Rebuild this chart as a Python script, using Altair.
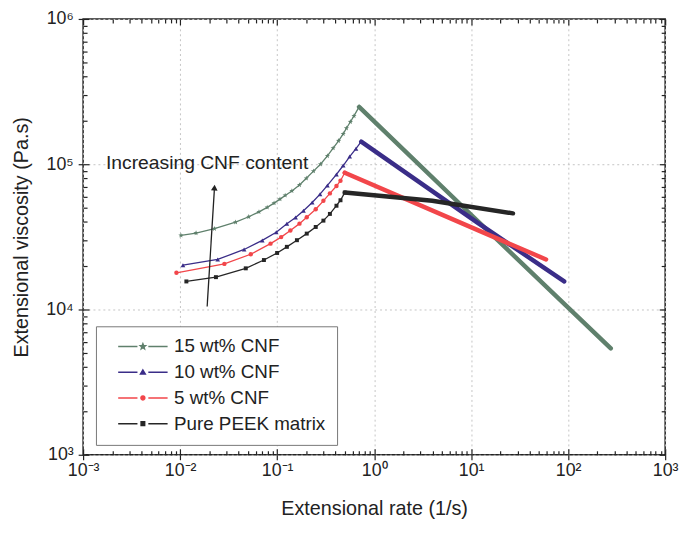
import math
import altair as alt
import pandas as pd

FONT = "Liberation Sans"
INK = "#222222"

series_names = ["15 wt% CNF", "10 wt% CNF", "5 wt% CNF", "Pure PEEK matrix"]
series_colors = ["#5f806c", "#3a2d88", "#f2464a", "#262626"]

rise_rate_15 = [0.0102, 0.0146, 0.0226, 0.0373, 0.051, 0.065, 0.079, 0.093, 0.107, 0.121,
                0.142, 0.17, 0.2, 0.237, 0.28, 0.33, 0.378, 0.43, 0.48, 0.518, 0.57, 0.62, 0.70]
rise_visc_15 = [32400, 33600, 36000, 39900, 43500, 47000, 50500, 54000, 57500, 61000,
                65500, 72000, 80000, 89600, 100000, 114000, 129000, 145000, 162000, 177000,
                196000, 215000, 248000]
rise_rate_10 = [0.0107, 0.0244, 0.0457, 0.0703, 0.098, 0.126, 0.155, 0.187, 0.23, 0.277,
                0.33, 0.409, 0.48, 0.56, 0.65, 0.736]
rise_visc_10 = [20200, 22100, 25900, 29900, 34000, 38900, 43000, 47800, 54500, 62200,
                71500, 85100, 98000, 113000, 128000, 143000]
rise_rate_5 = [0.00916, 0.0286, 0.0535, 0.0855, 0.11, 0.137, 0.17, 0.202, 0.25, 0.3,
               0.35, 0.409, 0.45, 0.498]
rise_visc_5 = [17900, 20600, 24000, 28400, 31500, 35000, 39000, 43100, 49000, 56000,
               63000, 70800, 77000, 87300]
rise_rate_0 = [0.0116, 0.0234, 0.0475, 0.0731, 0.1, 0.126, 0.16, 0.202, 0.25, 0.3,
               0.35, 0.409, 0.45, 0.498]
rise_visc_0 = [15600, 16700, 19200, 21900, 24500, 27000, 30000, 33300, 37000, 40900,
               45500, 51800, 56500, 63800]

fall_rate_15 = [0.70, 10, 100, 275]
fall_visc_15 = [248000, 44900, 10300, 5400]
fall_rate_10 = [0.736, 11.7, 91]
fall_visc_10 = [143000, 39500, 15600]
fall_rate_5 = [0.498, 11.7, 59.2]
fall_visc_5 = [87300, 35200, 22100]
fall_rate_0 = [0.498, 3.97, 27]
fall_visc_0 = [63800, 56000, 45900]

note_text = ["Increasing CNF content"]
note_rate = [0.00172]
note_visc = [92500]
arrow_rate = [0.019, 0.0226]
arrow_visc = [10500, 69000]

x_decades = [1e-3, 1e-2, 1e-1, 1e0, 1e1, 1e2, 1e3]
x_labels = ["10⁻³", "10⁻²", "10⁻¹", "10⁰", "10¹", "10²", "10³"]
y_decades = [1e3, 1e4, 1e5, 1e6]
y_labels = ["10³", "10⁴", "10⁵", "10⁶"]
minor_steps = [2, 3, 4, 5, 6, 7, 8, 9]

rise_sets = [(rise_rate_15, rise_visc_15), (rise_rate_10, rise_visc_10),
             (rise_rate_5, rise_visc_5), (rise_rate_0, rise_visc_0)]
fall_sets = [(fall_rate_15, fall_visc_15), (fall_rate_10, fall_visc_10),
             (fall_rate_5, fall_visc_5), (fall_rate_0, fall_visc_0)]

rise_rows, fall_rows = [], []
for name, (r, v) in zip(series_names, rise_sets):
    for i, (a, b) in enumerate(zip(r, v)):
        rise_rows.append({"series": name, "rate": a, "visc": b, "i": i})
for name, (r, v) in zip(series_names, fall_sets):
    for i, (a, b) in enumerate(zip(r, v)):
        fall_rows.append({"series": name, "rate": a, "visc": b, "i": i})
rise_df = pd.DataFrame(rise_rows)
fall_df = pd.DataFrame(fall_rows)
note_df = pd.DataFrame({"rate": note_rate, "visc": note_visc, "text": note_text})
arrow_df = pd.DataFrame({"rate": arrow_rate, "visc": arrow_visc, "i": [0, 1]})
head_df = arrow_df.iloc[[1]]
anchor_df = pd.DataFrame({"rate": [1.0], "visc": [1e4]})

x_minors = [k * d for d in x_decades[:-1] for k in minor_steps]
y_minors = [k * d for d in y_decades[:-1] for k in minor_steps]


def label_expr(decades, labels):
    expr = "''"
    for d, lab in zip(reversed(decades), reversed(labels)):
        e = int(round(math.log10(d)))
        expr = f"round(log(datum.value)/LN10) == {e} ? '{lab}' : ({expr})"
    return expr


def poly_path(n, ro, ri=None, rot=-math.pi / 2):
    pts = []
    m = n * 2 if ri else n
    for k in range(m):
        ang = rot + k * 2 * math.pi / m
        r = ro if (ri is None or k % 2 == 0) else ri
        pts.append(f"{r*math.cos(ang):.3f},{r*math.sin(ang):.3f}")
    return "M" + "L".join(pts) + "Z"


STAR = poly_path(5, 1.0, 0.42)
series_shapes = [STAR, "triangle-up", "circle", "square"]
series_sizes = [30, 22, 20, 16]

seg = "M-5,0L-1.1,0M1.1,0L5,0"
legend_paths = [
    seg + poly_path(5, 0.55, 0.24),
    seg + "M0,-0.45L0.48,0.35L-0.48,0.35Z",
    seg + poly_path(12, 0.4),
    seg + "M-0.36,-0.36L0.36,-0.36L0.36,0.36L-0.36,0.36Z",
]

x_scale = alt.Scale(type="log", domain=[1e-3, 1e3], nice=False)
y_scale = alt.Scale(type="log", domain=[1e3, 1e6], nice=False)


def X(ax=None):
    return alt.X("rate:Q", scale=x_scale, axis=ax)


def Y(ax=None):
    return alt.Y("visc:Q", scale=y_scale, axis=ax)


data_layers = []
for name, col, shp, sz in zip(series_names, series_colors, series_shapes, series_sizes):
    sel = alt.datum.series == name
    data_layers.append(alt.Chart(fall_df).transform_filter(sel).mark_line(
        color=col, strokeWidth=4.5, strokeCap="round").encode(x=X(), y=Y(), order="i:Q"))
    data_layers.append(alt.Chart(rise_df).transform_filter(sel).mark_line(
        color=col, strokeWidth=1.3).encode(x=X(), y=Y(), order="i:Q"))
    data_layers.append(alt.Chart(rise_df).transform_filter(sel).mark_point(
        color=col, filled=True, shape=shp, size=sz, opacity=1).encode(x=X(), y=Y()))

legend_props = dict(title=None, orient="none", legendX=13, legendY=311, direction="vertical",
                    labelFont=FONT, labelFontSize=19, labelColor=INK,
                    symbolSize=100, symbolStrokeWidth=1.5, symbolOpacity=1,
                    symbolOffset=27, labelOffset=22, rowPadding=6,
                    padding=11, strokeColor="#777777", fillColor="white", labelLimit=300)
legend_layer = alt.Chart(rise_df).mark_point(filled=False, opacity=0).encode(
    x=X(), y=Y(),
    stroke=alt.Stroke("series:N", scale=alt.Scale(domain=series_names, range=series_colors),
                      legend=alt.Legend(**legend_props)),
    fill=alt.Fill("series:N", scale=alt.Scale(domain=series_names, range=series_colors),
                  legend=alt.Legend(**legend_props)),
    shape=alt.Shape("series:N", scale=alt.Scale(domain=series_names, range=legend_paths),
                    legend=alt.Legend(**legend_props)),
)
note = alt.Chart(note_df).mark_text(align="left", baseline="alphabetic", font=FONT,
                                    fontSize=19.5, color=INK).encode(x=X(), y=Y(), text="text:N")
arrow = alt.Chart(arrow_df).mark_line(color=INK, strokeWidth=1.3).encode(x=X(), y=Y(), order="i:Q")
head = alt.Chart(head_df).mark_point(shape="triangle-up", filled=True, size=45, angle=4,
                                     color=INK, opacity=1).encode(x=X(), y=Y())

tick_common = dict(domain=False, labels=False, grid=False, title=None,
                   tickColor=INK, tickWidth=1.2)


def axis_layer(xax, yax):
    return alt.Chart(anchor_df).mark_point(opacity=0).encode(x=X(xax), y=Y(yax))


x_main = alt.Axis(orient="bottom", values=x_decades, labelExpr=label_expr(x_decades, x_labels),
                  tickSize=5, tickColor=INK, tickWidth=1.2, domain=False,
                  grid=True, gridColor="#c4c4c4", gridDash=[2, 3], gridWidth=1,
                  labelFont=FONT, labelFontSize=18, labelColor=INK, labelPadding=2,
                  labelFlush=False, labelOverlap=False,
                  title="Extensional rate (1/s)", titleFont=FONT, titleFontSize=20,
                  titleFontWeight="normal", titleColor=INK, titlePadding=19)
y_main = alt.Axis(orient="left", values=y_decades, labelExpr=label_expr(y_decades, y_labels),
                  tickSize=5, tickColor=INK, tickWidth=1.2, domain=False,
                  grid=True, gridColor="#c4c4c4", gridDash=[2, 3], gridWidth=1,
                  labelFont=FONT, labelFontSize=18, labelColor=INK, labelPadding=5,
                  labelFlush=False, labelOverlap=False,
                  title="Extensional viscosity (Pa.s)", titleFont=FONT, titleFontSize=20,
                  titleFontWeight="normal", titleColor=INK, titlePadding=14)

layers = [
    axis_layer(x_main, y_main),
    axis_layer(alt.Axis(orient="bottom", values=x_decades, offset=-6, tickSize=6, **tick_common),
               alt.Axis(orient="left", values=y_decades, offset=-6, tickSize=6, **tick_common)),
    axis_layer(alt.Axis(orient="bottom", values=x_minors, offset=-4, tickSize=4, **tick_common),
               alt.Axis(orient="left", values=y_minors, offset=-4, tickSize=4, **tick_common)),
    axis_layer(alt.Axis(orient="top", values=x_decades, offset=-6, tickSize=6, **tick_common),
               alt.Axis(orient="right", values=y_decades, offset=-6, tickSize=6, **tick_common)),
    axis_layer(alt.Axis(orient="top", values=x_minors, offset=-4, tickSize=4, **tick_common),
               alt.Axis(orient="right", values=y_minors, offset=-4, tickSize=4, **tick_common)),
    *data_layers, note, arrow, head, legend_layer,
]

chart = alt.layer(*layers).resolve_axis(x="independent", y="independent").properties(
    width=589, height=441, autosize="none",
    padding={"left": 76, "top": 8, "right": 14, "bottom": 70},
    background="white",
).configure_view(stroke=INK, strokeWidth=1.5)

chart.save("out.html", embed_options={"renderer": "svg", "actions": False})
